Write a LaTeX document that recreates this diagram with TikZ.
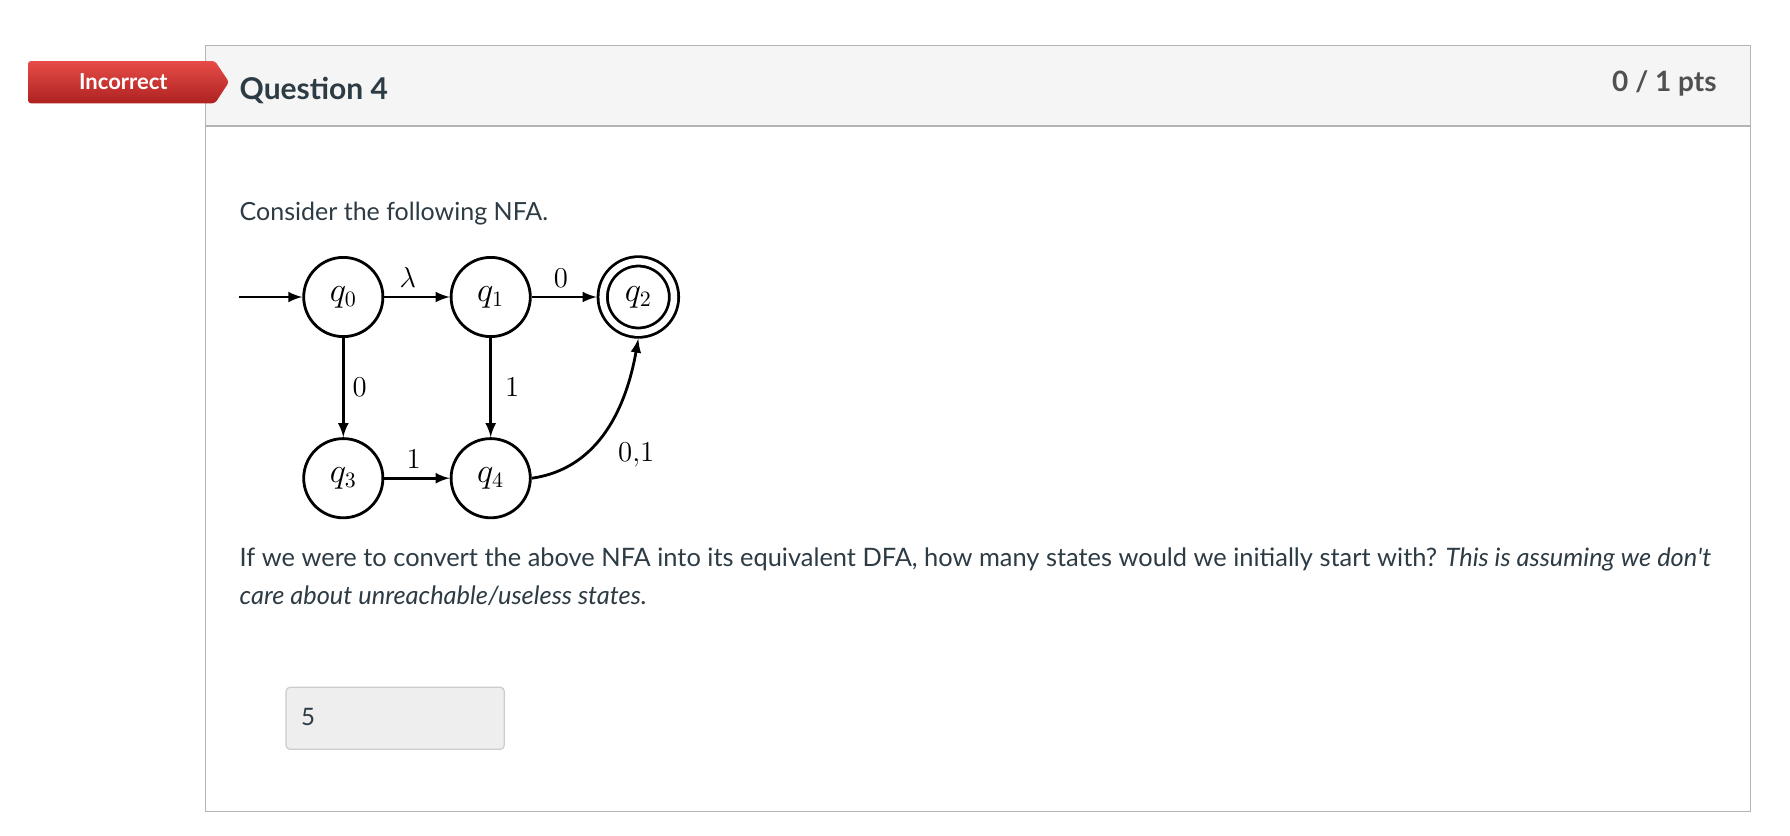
\documentclass[tikz,border=0pt]{standalone}
\usepackage{fontspec}
\setmainfont{Lato}
\usepackage{amsmath, amssymb}
\usepackage{tikz}
\usetikzlibrary{arrows, positioning}
\definecolor{canvasdark}{RGB}{45,59,69}
\definecolor{ptsgray}{RGB}{80,80,80}
\definecolor{headerfill}{RGB}{245,245,245}
\definecolor{panelline}{RGB}{180,180,180}
\definecolor{tagtop}{RGB}{230,76,72}
\definecolor{tagbottom}{RGB}{174,34,32}
\definecolor{answerfill}{RGB}{238,238,238}
\definecolor{answerline}{RGB}{204,204,204}

\begin{document}
\begin{tikzpicture}[x=0.5pt, y=-0.5pt,
    state/.style={draw, circle, line width=1.4pt, minimum size=39.6pt, inner sep=0pt, font=\fontsize{16}{18}\selectfont},
    accepting/.style={state, double, double distance=3.25pt, minimum size=35.65pt, outer sep=3pt},
    arrow/.style={->, line width=1.4pt, >=latex},
    edgelabel/.style={font=\fontsize{15}{17}\selectfont, inner sep=4pt},
    bodytext/.style={anchor=base west, inner sep=0pt, text=canvasdark, font=\fontsize{12.5}{15}\selectfont}
]

% page and panel
\fill[white] (0,0) rectangle (1790,836);
\useasboundingbox (0,0) rectangle (1790,836);
\fill[headerfill] (205.5,45.7) rectangle (1750.5,126);
\draw[panelline, line width=0.6pt] (205.5,45.7) rectangle (1750.5,811.7);
\draw[panelline, line width=0.6pt] (205.5,126) -- (1750.5,126);

% result tag
\shade[top color=tagtop, bottom color=tagbottom, rounded corners=1.5pt]
    (28,61) -- (215,61) -- (229,82) -- (215,103.3) -- (28,103.3) -- cycle;
\node[anchor=base, inner sep=0pt, text=white, font=\fontsize{11}{13}\selectfont\bfseries] (tag) at (123.3,89) {Incorrect};

% header texts
\node[bodytext, font=\fontsize{15}{18}\selectfont\bfseries] (title) at (239.3,99) {Question 4};
\node[anchor=base east, inner sep=0pt, text=ptsgray, font=\fontsize{14}{17}\selectfont\bfseries] (pts) at (1717,91.7) {0 / 1 pts};

\node[bodytext] (intro) at (239.3,220) {Consider the following NFA.};

% NFA states
\node[state] (q0) at (343.3,297) {$q_0$};
\node[state, right=32.7pt of q0] (q1) {$q_1$};
\node[accepting, right=32.5pt of q1] (q2) {$q_2$};
\node[state, below=49.6pt of q0] (q3) {$q_3$};
\node[state, right=32.7pt of q3] (q4) {$q_4$};
\coordinate (start) at (238.5,297);

% transitions
\draw[arrow] (start) -- (q0);
\draw[arrow] (q0) -- node[edgelabel, above, pos=0.36] (l01) {$\lambda$} (q1);
\draw[arrow] (q1) -- node[edgelabel, above, pos=0.45] (l12) {$0$} (q2);
\draw[arrow] (q0) -- node[edgelabel, right, pos=0.5] (l03) {$0$} (q3);
\draw[arrow] (q1) -- node[edgelabel, right, pos=0.5, xshift=2.5pt] (l14) {$1$} (q4);
\draw[arrow] (q3) -- node[edgelabel, above, pos=0.45] (l34) {$1$} (q4);
\draw[arrow] (q4.east) to[out=8, in=-100] node[edgelabel, right, pos=0.45, xshift=4pt, yshift=-8.5pt] (l42) {$0{,}1$} (q2.south);

% question
\node[bodytext, font=\fontsize{12.7}{15}\selectfont] (ask1) at (239.3,566.7) {If we were to convert the above NFA into its equivalent DFA, how many states would we initially start with? \textit{This is assuming we don\textquotesingle t}};
\node[bodytext, font=\fontsize{12.7}{15}\selectfont] (ask2) at (239.3,604) {\textit{care about unreachable/useless states.}};

% answer box
\draw[answerline, fill=answerfill, line width=0.6pt, rounded corners=2pt] (286,687.3) rectangle (504.3,749.3);
\node[bodytext, font=\fontsize{12}{14}\selectfont] (answer) at (300.7,725) {5};

\end{tikzpicture}
\end{document}
